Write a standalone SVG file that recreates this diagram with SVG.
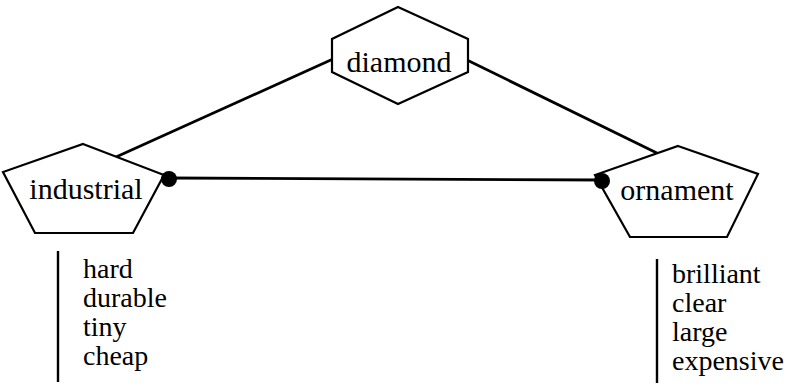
<svg xmlns="http://www.w3.org/2000/svg" width="795" height="389" viewBox="0 0 795 389">
<defs>
<polygon id="unused" points="0,0"/>
</defs>
<rect width="795" height="389" fill="#fff"/>
<g id="connectors" stroke="#000" stroke-width="2.8" fill="none">
<line x1="116" y1="157" x2="333" y2="59"/>
<line x1="467" y1="60" x2="663" y2="156"/>
<line x1="169" y1="178" x2="602" y2="180"/>
</g>
<g id="diamond">
<polygon fill="#fff" stroke="#000" stroke-width="2.2" points="398,7 468,39 468,72 398,104 332,72 332,39"/>
<text x="399" y="72" font-family="Liberation Serif" font-size="30" text-anchor="middle">diamond</text>
</g>
<g id="industrial">
<polygon fill="#fff" stroke="#000" stroke-width="2.2" points="83,144 164,175 133,233 35,233 3,172"/>
<text x="86" y="199" font-family="Liberation Serif" font-size="30" text-anchor="middle">industrial</text>
</g>
<g id="ornament">
<polygon fill="#fff" stroke="#000" stroke-width="2.2" points="678,146 758,174 727,237 630,237 595,175"/>
<text x="677" y="200" font-family="Liberation Serif" font-size="30" text-anchor="middle">ornament</text>
</g>
<g id="endpoints" fill="#000">
<circle cx="169" cy="179" r="8"/>
<circle cx="602" cy="181" r="8"/>
</g>
<g id="industrial-props" font-family="Liberation Serif" font-size="28">
<line stroke="#000" stroke-width="2.4" x1="58" y1="251" x2="58" y2="382"/>
<text x="83" y="278">hard</text>
<text x="83" y="307">durable</text>
<text x="83" y="336">tiny</text>
<text x="83" y="365">cheap</text>
</g>
<g id="ornament-props" font-family="Liberation Serif" font-size="28">
<line stroke="#000" stroke-width="2.4" x1="657" y1="259" x2="657" y2="383"/>
<text x="672" y="283">brilliant</text>
<text x="672" y="312">clear</text>
<text x="672" y="341">large</text>
<text x="672" y="370">expensive</text>
</g>
</svg>
